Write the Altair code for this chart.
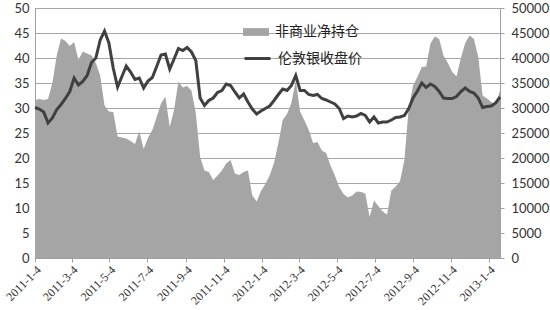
import altair as alt
import pandas as pd

# weekly data starting 2011-01-04
silver = [30.1, 29.8, 29.2, 27.0, 28.0, 29.7, 30.7, 31.9, 33.3, 36.0,
          34.6, 35.3, 36.5, 39.1, 40.0, 43.6, 45.4, 43.0, 38.0, 34.2,
          36.3, 38.4, 37.2, 35.7, 36.0, 34.0, 35.4, 36.1, 38.3, 40.6,
          40.8, 37.8, 39.8, 41.9, 41.5, 42.1, 41.2, 39.5, 32.0, 30.5,
          31.5, 32.0, 33.1, 33.5, 34.8, 34.5, 33.2, 32.0, 32.8, 31.2,
          29.8, 28.8, 29.4, 29.9, 30.4, 31.5, 32.7, 33.8, 33.5, 34.5,
          36.5, 33.5, 33.5, 32.7, 32.5, 32.7, 31.9, 31.6, 31.2, 30.8,
          29.9, 27.9, 28.4, 28.2, 28.4, 28.9, 28.5, 27.2, 28.2, 27.0,
          27.2, 27.2, 27.6, 28.1, 28.2, 28.5, 29.9, 32.0, 33.4, 35.0,
          34.1, 34.8, 34.3, 33.3, 32.0, 31.9, 31.9, 32.3, 33.3, 34.0,
          33.3, 33.0, 32.0, 30.1, 30.3, 30.4, 31.0, 32.2]

net_k = [31.6, 31.8, 31.6, 31.8, 35.0, 40.5, 43.9, 43.4, 42.4, 43.2,
         39.6, 41.3, 40.9, 40.5, 39.0, 36.5, 30.5, 29.3, 29.2, 24.3,
         24.1, 23.9, 23.4, 22.8, 25.3, 21.8, 24.0, 25.6, 28.2, 30.9,
         32.3, 26.2, 29.6, 35.3, 34.1, 34.4, 33.5, 29.0, 20.2, 17.5,
         17.2, 15.6, 16.5, 17.5, 18.9, 19.6, 16.9, 16.6, 17.2, 17.5,
         12.5, 11.3, 13.4, 14.8, 16.5, 19.0, 23.0, 27.6, 28.8, 31.0,
         35.5, 29.3, 27.5, 25.6, 23.0, 23.2, 21.5, 21.0, 18.5, 16.5,
         14.2, 12.8, 12.1, 12.5, 13.3, 13.2, 12.9, 8.2, 11.5, 10.4,
         9.3, 8.7, 13.5, 14.3, 15.4, 19.6, 30.0, 34.5, 36.2, 38.2,
         38.3, 42.9, 44.3, 43.8, 40.5, 39.0, 37.2, 36.3, 40.0, 43.0,
         44.5, 43.8, 40.2, 32.5, 31.9, 31.2, 30.6, 33.5]
net = [round(v * 1000) for v in net_k]

tick_dates = ["2011-01-04", "2011-03-04", "2011-05-04", "2011-07-04",
              "2011-09-04", "2011-11-04", "2012-01-04", "2012-03-04",
              "2012-05-04", "2012-07-04", "2012-09-04", "2012-11-04",
              "2013-01-04"]

series_area = "非商业净持仓"
series_line = "伦敦银收盘价"

dates = pd.date_range("2011-01-04", periods=len(silver), freq="7D").strftime("%Y-%m-%d").tolist()
df = pd.DataFrame({"date": dates, "silver": silver, "net": net,
                   "s1": series_area, "s2": series_line})


def ms(d):
    return int(pd.Timestamp(d, tz="UTC").timestamp() * 1000)


tick_ms = [ms(d) for d in tick_dates]
domain_x = [ms(dates[0]), ms(dates[-1])]

GRID = "#a6a6a6"
AXIS = "#a0a0a0"
LBL = "#333333"

x_enc = alt.X(
    "date:T",
    scale=alt.Scale(type="utc", domain=domain_x),
    axis=alt.Axis(values=tick_ms, labelExpr="utcFormat(datum.value, '%Y-%-m-%-d')",
                  labelAngle=-45, labelAlign="right", labelBaseline="top",
                  labelFont="Liberation Serif", labelFontSize=12, labelColor=LBL,
                  labelPadding=2, grid=False, ticks=True, tickSize=4,
                  tickColor=AXIS, domainColor=AXIS, title=None, labelOverlap=False),
)

area = alt.Chart(df).mark_area(opacity=1, interpolate="linear").encode(
    x=x_enc,
    y=alt.Y("net:Q", scale=alt.Scale(domain=[0, 50000]),
            axis=alt.Axis(orient="right", values=list(range(0, 50001, 5000)),
                          format="d",
                          grid=True, gridColor=GRID, gridWidth=1,
                          ticks=True, tickSize=4, tickColor=AXIS, domainColor=AXIS,
                          labelFont="Lato", labelFontSize=13, labelColor=LBL,
                          labelPadding=7, title=None)),
    fill=alt.Fill("s1:N", scale=alt.Scale(range=["#a5a5a5"]),
                  legend=alt.Legend(orient="none", legendX=208, legendY=11, title=None,
                                    symbolType="M-1,-0.3L1,-0.3L1,0.3L-1,0.3Z",
                                    symbolSize=676, symbolStrokeWidth=0,
                                    labelFont="Noto Sans CJK SC", labelFontSize=14,
                                    labelColor="#222222", labelOffset=6)),
)

line = alt.Chart(df).mark_line(strokeWidth=3, interpolate="linear").encode(
    x=x_enc,
    y=alt.Y("silver:Q", scale=alt.Scale(domain=[0, 50]),
            axis=alt.Axis(orient="left", values=list(range(0, 51, 5)),
                          grid=False, ticks=False, domainColor=AXIS,
                          labelFont="Lato", labelFontSize=13, labelColor=LBL,
                          labelPadding=6, title=None)),
    stroke=alt.Stroke("s2:N", scale=alt.Scale(range=["#404040"]),
                      legend=alt.Legend(orient="none", legendX=208, legendY=36, title=None,
                                        symbolType="stroke", symbolSize=676,
                                        symbolStrokeWidth=3,
                                        labelFont="Noto Sans CJK SC", labelFontSize=14,
                                        labelColor="#222222", labelOffset=6)),
)

chart = alt.layer(area, line).resolve_scale(
    y="independent", fill="independent", stroke="independent"
).properties(
    width=465, height=250,
    autosize=alt.AutoSizeParams(type="none"),
    padding={"left": 35, "top": 8, "right": 50, "bottom": 52},
).configure_view(strokeWidth=0).configure(background="white")

chart.save("out.html", embed_options={"renderer": "svg", "actions": False})
